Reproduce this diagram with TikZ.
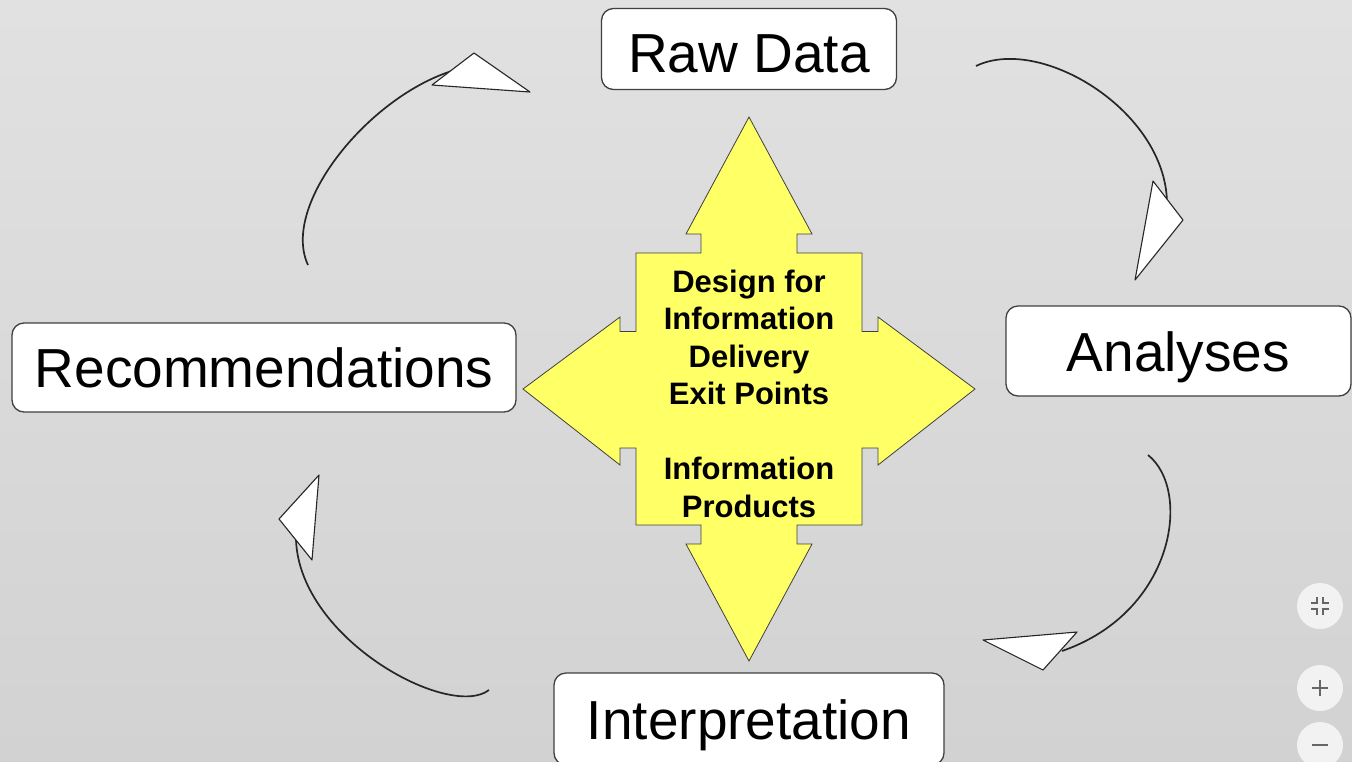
\documentclass[tikz,border=0pt]{standalone}
\usepackage{fontspec}
\setmainfont{Liberation Sans}
\usepackage{tikz}
\usetikzlibrary{positioning}
\usepackage{xcolor}
\definecolor{bgtop}{RGB}{225,225,225}
\definecolor{bgbot}{RGB}{210,210,210}
\definecolor{hubyellow}{RGB}{255,255,102}
\definecolor{edge}{RGB}{64,64,64}

\begin{document}
\begin{tikzpicture}[x=1pt,y=-1pt,
    stage/.style={draw=edge,fill=white,rounded corners=12pt,line width=1.3pt,
      font=\fontsize{55}{60}\selectfont,inner sep=0pt,text height=40pt,text depth=0pt},
    loop/.style={draw=black!85,line width=1.7pt},
    tip/.style={draw=black!85,fill=white,line width=1.1pt,line join=round},
    btn/.style={circle,fill=white!95!black,minimum size=46pt,inner sep=0pt},
    glyph/.style={draw=black!60,line width=1.6pt}]
  \useasboundingbox (0,0) rectangle (1352,761);
  \clip (0,0) rectangle (1352,761);
  \fill[top color=bgtop,bottom color=bgbot] (0,0) rectangle (1352,761);

  % the four stages
  \node[stage,minimum width=295pt,minimum height=81pt,text height=47pt] (raw) at (749,49) {Raw Data};
  \node[stage,minimum width=345pt,minimum height=90pt] (ana) at (1178.5,351) {Analyses};
  \node[stage,minimum width=504pt,minimum height=89pt] (rec) at (264,367.5) {Recommendations};
  \node[stage,minimum width=390pt,minimum height=92pt] (int) at (749,719) {Interpretation};

  % yellow four-way arrow
  \filldraw[fill=hubyellow,draw=edge,line width=0.8pt]
    (749,117) -- (812,234) -- (797,234) -- (797,253) -- (862,253)
    -- (862,331.5) -- (878,331.5) -- (878,317) -- (975,389) -- (878,465) -- (878,448) -- (862,448)
    -- (862,525) -- (797,525) -- (797,544) -- (812,544) -- (749,661) -- (686,544) -- (701,544) -- (701,525)
    -- (636,525) -- (636,448) -- (620,448) -- (620,465) -- (523,389) -- (620,317) -- (620,331.5) -- (636,331.5)
    -- (636,253) -- (701,253) -- (701,234) -- (686,234) -- cycle;
  \node[font=\bfseries\fontsize{31}{37.5}\selectfont,align=center] (hub) at (749,393.5)
    {Design for\\Information\\Delivery\\Exit Points\\[37.5pt]Information\\Products};

  % curved arrows round the cycle
  \coordinate (rec-out) at (308,265);
  \coordinate (raw-in) at (455,70);
  \draw[loop] (rec-out) .. controls (280,205) and (370,95) .. (raw-in);
  \draw[tip] (432,85) -- (474,53) -- (530,92) -- cycle;

  \coordinate (raw-out) at (976,66);
  \coordinate (ana-in) at (1167,202);
  \draw[loop] (raw-out) .. controls (1040,35) and (1165,110) .. (ana-in);
  \draw[tip] (1153,181) -- (1183,220) -- (1135,280) -- cycle;

  \coordinate (ana-out) at (1148,455);
  \coordinate (int-in) at (1062,651);
  \draw[loop] (ana-out) .. controls (1192,490) and (1175,612) .. (int-in);
  \draw[tip] (983,640) -- (1077,632) -- (1043,670) -- cycle;

  \coordinate (int-out) at (489,690);
  \coordinate (rec-in) at (296,540);
  \draw[loop] (int-out) .. controls (450,720) and (300,640) .. (rec-in);
  \draw[tip] (319,475) -- (279,519) -- (312,560) -- cycle;

  % viewer buttons
  \node[btn] (fit) at (1320,606) {};
  \node[btn] (zin) at (1320,688) {};
  \node[btn] (zout) at (1320,745) {};
  \foreach \sx/\sy in {-1/-1,1/-1,-1/1,1/1}
    \draw[glyph] ([xshift=\sx*9pt,yshift=-\sy*3pt]fit.center) -- ([xshift=\sx*3pt,yshift=-\sy*3pt]fit.center)
      -- ([xshift=\sx*3pt,yshift=-\sy*9pt]fit.center);
  \draw[glyph] ([xshift=-8pt]zin.center) -- ([xshift=8pt]zin.center);
  \draw[glyph] ([yshift=-8pt]zin.center) -- ([yshift=8pt]zin.center);
  \draw[glyph] ([xshift=-8pt]zout.center) -- ([xshift=8pt]zout.center);
\end{tikzpicture}
\end{document}
